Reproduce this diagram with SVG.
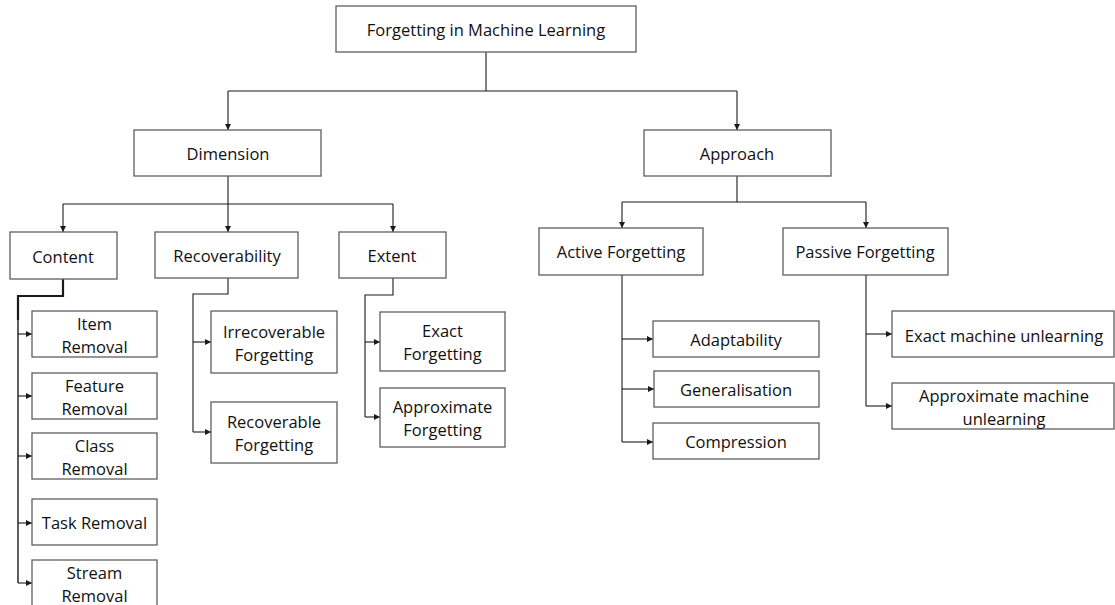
<svg xmlns="http://www.w3.org/2000/svg" width="1115" height="605" viewBox="0 0 1115 605">
<style>
.box{fill:#fff;stroke:#5f5f5f;stroke-width:1.3}
.t{font-family:"Open Sans","Liberation Sans",sans-serif;font-size:16.5px;fill:#111;text-anchor:middle;dominant-baseline:central}
.c{fill:none;stroke:#1a1a1a;stroke-width:1.1}
.a{fill:none;stroke:#1a1a1a;stroke-width:1.1;marker-end:url(#ar)}
</style>
<defs>
<marker id="ar" viewBox="0 0 10 10" refX="10" refY="5" markerWidth="6" markerHeight="6" markerUnits="userSpaceOnUse" orient="auto">
<path d="M0,0 L10,5 L0,10 z" fill="#1a1a1a"/>
</marker>
</defs>
<rect width="1115" height="605" fill="#fff"/>
<g id="connectors">
<path class="c" d="M486,52 V91 M228,91 H737"/>
<path class="a" d="M228,91 V130"/>
<path class="a" d="M737,91 V130"/>
<path class="c" d="M228,176 V204 M63,204 H393"/>
<path class="a" d="M63,204 V232"/>
<path class="a" d="M228,204 V232"/>
<path class="a" d="M393,204 V232"/>
<path class="c" d="M737,176 V202 M622,202 H866"/>
<path class="a" d="M622,202 V228"/>
<path class="a" d="M866,202 V228"/>
<path class="c" style="stroke-width:2.2" d="M63,279 V296 H18 V320"/>
<path class="c" style="stroke-width:1.4" d="M18,318 V583"/>
<path class="a" d="M18,334 H32"/>
<path class="a" d="M18,396 H32"/>
<path class="a" d="M18,456 H32"/>
<path class="a" d="M18,523 H32"/>
<path class="a" d="M18,583 H32"/>
<path class="c" d="M228,278 V294 H193 V432"/>
<path class="a" d="M193,342 H211"/>
<path class="a" d="M193,432 H211"/>
<path class="c" d="M393,278 V295 H365 V417"/>
<path class="a" d="M365,342 H380"/>
<path class="a" d="M365,417 H380"/>
<path class="c" d="M622,275 V442"/>
<path class="a" d="M622,339 H653"/>
<path class="a" d="M622,389 H654"/>
<path class="a" d="M622,442 H653"/>
<path class="c" d="M866,275 V406"/>
<path class="a" d="M866,334 H892"/>
<path class="a" d="M866,406 H892"/>
</g>
<g id="root"><rect class="box" x="336" y="6" width="300" height="46"/><text class="t" x="486" y="29">Forgetting in Machine Learning</text></g>
<g id="dimension"><rect class="box" x="134" y="130" width="187" height="46"/><text class="t" x="228" y="153">Dimension</text></g>
<g id="approach"><rect class="box" x="644" y="130" width="187" height="46"/><text class="t" x="737" y="153">Approach</text></g>
<g id="content"><rect class="box" x="10" y="232" width="107" height="47"/><text class="t" x="63" y="256">Content</text></g>
<g id="recoverability"><rect class="box" x="155" y="232" width="143" height="46"/><text class="t" x="227" y="255">Recoverability</text></g>
<g id="extent"><rect class="box" x="339" y="232" width="107" height="46"/><text class="t" x="392" y="255">Extent</text></g>
<g id="active"><rect class="box" x="539" y="228" width="164" height="47"/><text class="t" x="621" y="251.5">Active Forgetting</text></g>
<g id="passive"><rect class="box" x="783" y="228" width="165" height="47"/><text class="t" x="865" y="251.5">Passive Forgetting</text></g>
<g id="item"><rect class="box" x="32" y="311" width="125" height="46"/><text class="t" x="94.5" y="323">Item</text><text class="t" x="94.5" y="346">Removal</text></g>
<g id="feature"><rect class="box" x="32" y="373" width="125" height="46"/><text class="t" x="94.5" y="385">Feature</text><text class="t" x="94.5" y="408">Removal</text></g>
<g id="class"><rect class="box" x="32" y="433" width="125" height="46"/><text class="t" x="94.5" y="445">Class</text><text class="t" x="94.5" y="468">Removal</text></g>
<g id="task"><rect class="box" x="32" y="499" width="125" height="46"/><text class="t" x="94.5" y="522">Task Removal</text></g>
<g id="stream"><rect class="box" x="32" y="560" width="125" height="50"/><text class="t" x="94.5" y="572">Stream</text><text class="t" x="94.5" y="595">Removal</text></g>
<g id="irrecoverable"><rect class="box" x="211" y="311" width="126" height="62"/><text class="t" x="274" y="331">Irrecoverable</text><text class="t" x="274" y="354">Forgetting</text></g>
<g id="recoverable"><rect class="box" x="211" y="402" width="126" height="61"/><text class="t" x="274" y="421">Recoverable</text><text class="t" x="274" y="444">Forgetting</text></g>
<g id="exact-forgetting"><rect class="box" x="380" y="312" width="125" height="59"/><text class="t" x="442.5" y="330">Exact</text><text class="t" x="442.5" y="353">Forgetting</text></g>
<g id="approx-forgetting"><rect class="box" x="380" y="388" width="125" height="59"/><text class="t" x="442.5" y="406">Approximate</text><text class="t" x="442.5" y="429">Forgetting</text></g>
<g id="adaptability"><rect class="box" x="653" y="321" width="166" height="36"/><text class="t" x="736" y="339">Adaptability</text></g>
<g id="generalisation"><rect class="box" x="654" y="371" width="165" height="36"/><text class="t" x="736" y="389">Generalisation</text></g>
<g id="compression"><rect class="box" x="653" y="423" width="166" height="36"/><text class="t" x="736" y="441">Compression</text></g>
<g id="exact-mu"><rect class="box" x="892" y="311" width="222" height="46"/><text class="t" x="1004" y="335">Exact machine unlearning</text></g>
<g id="approx-mu"><rect class="box" x="892" y="383" width="222" height="46"/><text class="t" x="1004" y="395">Approximate machine</text><text class="t" x="1004" y="418">unlearning</text></g>
</svg>
